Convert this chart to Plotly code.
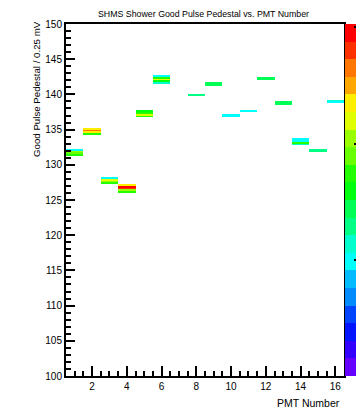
import colorsys
import plotly.graph_objects as go

# ---- data ----
pmt_numbers = [1, 2, 3, 4, 5, 6, 8, 9, 10, 11, 12, 13, 14, 15, 16]
# lower edge of first filled pedestal bin (units of 0.25 mV) per PMT
pedestal_start = [131.25, 134.25, 127.25, 126.0, 136.75, 141.5, 139.75, 141.25,
                  136.75, 137.5, 142.0, 138.5, 132.75, 131.75, 138.75]
# counts per 0.25-wide bin, bottom to top
bin_counts = [
    [1742, 1894, 2045, 985],
    [1742, 2348, 2651, 2348],
    [1742, 2045, 2196, 985],
    [1742, 2045, 2800, 2950, 2348],
    [1742, 2196, 1742, 1590],
    [1136, 1590, 2196, 1742, 985],
    [1288],
    [1439, 1439],
    [985, 985],
    [985],
    [1439, 1439],
    [1439, 1439],
    [1136, 1742, 985, 985],
    [1288, 1288],
    [985, 1136],
]
x_tick_vals = [2, 4, 6, 8, 10, 12, 14, 16]
y_tick_vals = [100, 105, 110, 115, 120, 125, 130, 135, 140, 145, 150]
z_max = 3030
z_ticks = [1000, 2000, 3000]

# ---- histogram grid ----
bin_w = 0.25
y_lo, y_hi = 100.0, 150.0
n_y = int(round((y_hi - y_lo) / bin_w))
x_centers = list(range(1, 17))
y_centers = [y_lo + bin_w * (i + 0.5) for i in range(n_y)]
z = [[None] * len(x_centers) for _ in range(n_y)]
for p, start, counts in zip(pmt_numbers, pedestal_start, bin_counts):
    j0 = int(round((start - y_lo) / bin_w))
    for k, c in enumerate(counts):
        z[j0 + k][p - 1] = c

# ROOT "pretty" palette (50 colours, violet->red) sampled at 20 contours
def palette_color(i):
    hue = 280 - (i + 1) * 5.6
    r, g, b = colorsys.hls_to_rgb(hue / 360.0, 0.5, 1.0)
    return "rgb(%d,%d,%d)" % (round(r * 255), round(g * 255), round(b * 255))

ndiv = 20
colorscale = []
for k in range(ndiv):
    c = palette_color(int((k + 0.99) * 50 / ndiv))
    colorscale.append([k / ndiv, c])
    colorscale.append([(k + 1) / ndiv, c])

W, H = 356, 412
L, R, T, B = 66, 344, 24, 376
pw, ph = R - L, B - T

def px(page_x):
    return (page_x - L) / pw

def py(page_y):
    return (B - page_y) / ph

fig = go.Figure(go.Heatmap(
    x=x_centers, y=y_centers, z=z,
    zmin=0, zmax=z_max, zsmooth=False,
    colorscale=colorscale,
    colorbar=dict(
        xref="container", x=345 / W, xanchor="left", xpad=0,
        yref="paper", y=0.5, yanchor="middle", ypad=0,
        len=ph, lenmode="pixels", thickness=13, thicknessmode="pixels",
        outlinewidth=0, tickvals=z_ticks, ticks="inside", ticklen=4,
        tickwidth=2, tickcolor="black", showticklabels=False,
    ),
    hoverinfo="skip",
))

font = "Liberation Sans, Arial, Helvetica, sans-serif"
fig.update_layout(
    width=W, height=H,
    margin=dict(l=L, r=W - R, t=T, b=H - B, autoexpand=False),
    paper_bgcolor="white", plot_bgcolor="white",
    font=dict(family=font, size=10, color="black"),
    showlegend=False,
    xaxis=dict(
        range=[0.5, 16.5], tickvals=x_tick_vals, ticks="inside", ticklen=10,
        tickwidth=2, tickcolor="black", showline=True, linewidth=2,
        linecolor="black", mirror=True, showgrid=False, zeroline=False,
        tickfont=dict(size=10),
        minor=dict(dtick=0.5, tick0=0.5, ticks="inside", ticklen=5,
                   tickwidth=2, tickcolor="black", showgrid=False),
    ),
    yaxis=dict(
        range=[100, 150], tickvals=y_tick_vals, ticks="inside", ticklen=9,
        tickwidth=2, tickcolor="black", showline=True, linewidth=2,
        linecolor="black", mirror=True, showgrid=False, zeroline=False,
        tickfont=dict(size=10),
        minor=dict(dtick=1, tick0=100, ticks="inside", ticklen=5,
                   tickwidth=2, tickcolor="black", showgrid=False),
    ),
    annotations=[
        dict(text="SHMS Shower Good Pulse Pedestal vs. PMT Number",
             xref="paper", yref="paper", x=px(203.5), y=py(13.5),
             xanchor="center", yanchor="middle", showarrow=False,
             font=dict(size=8.8, family=font)),
        dict(text="Good Pulse Pedestal / 0.25 mV",
             xref="paper", yref="paper", x=px(36), y=py(89),
             xanchor="center", yanchor="middle", textangle=-90,
             showarrow=False, font=dict(size=9.7, family=font)),
        dict(text="PMT Number",
             xref="paper", yref="paper", x=px(342), y=py(403),
             xanchor="right", yanchor="middle", showarrow=False,
             font=dict(size=10.5, family=font)),
    ],
)

fig.write_html(
    "out.html",
    config={"displayModeBar": False},
    post_script="document.body.style.margin='0px';"
                "document.body.style.overflow='hidden';",
)
